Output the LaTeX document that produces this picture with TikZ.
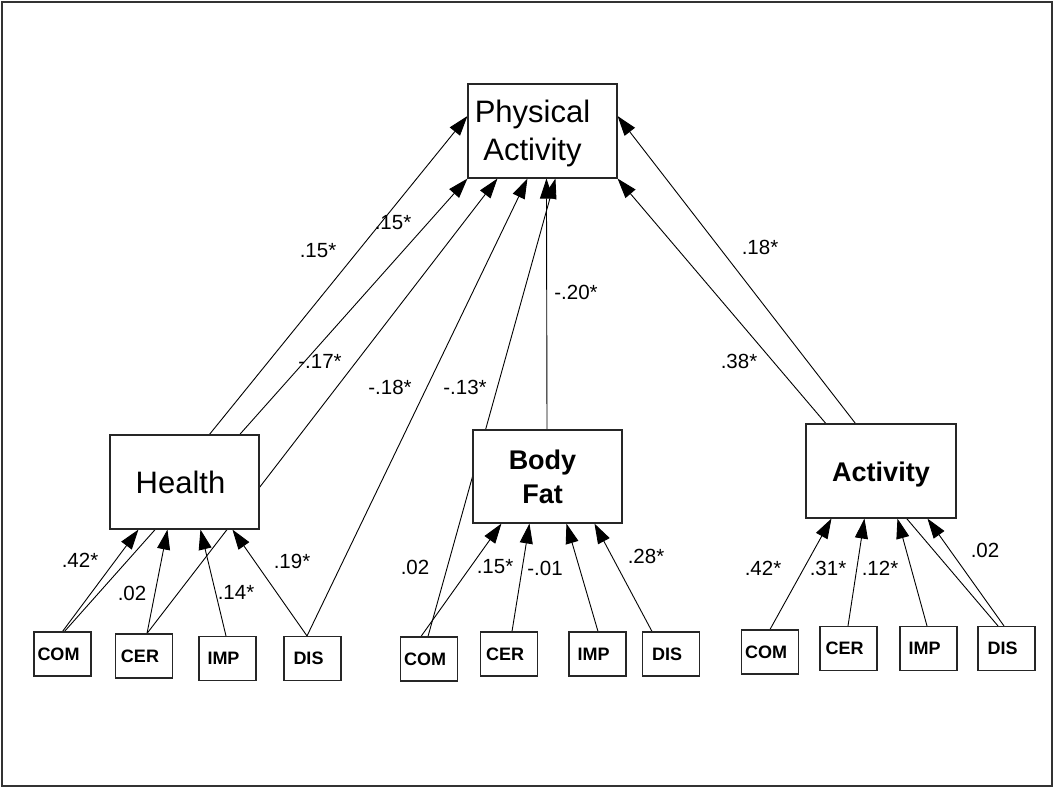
\documentclass[tikz,border=0pt]{standalone}
\usepackage{fontspec}
\setmainfont{Liberation Sans}
\usetikzlibrary{arrows.meta,backgrounds}

\tikzset{
  latent/.style={draw=black!85, line width=1.1pt, fill=white, inner sep=0pt,
    minimum width=149pt, minimum height=94pt},
  indicator/.style={draw=black!85, line width=1.1pt, fill=white, inner sep=0pt,
    minimum width=57pt, minimum height=44pt},
  bigname/.style={font=\fontsize{31}{38}\selectfont, align=center, inner sep=0pt},
  boldname/.style={font=\bfseries\fontsize{27}{34}\selectfont, align=center, inner sep=0pt},
  smallname/.style={font=\bfseries\fontsize{18}{22}\selectfont, inner sep=0pt},
  link/.style={line width=0.9pt, -{Triangle[length=20pt,width=13pt]}},
  coef/.style={font=\fontsize{20.5}{24}\selectfont, inner sep=0pt},
}

\begin{document}
\begin{tikzpicture}[x=1pt, y=-1pt]
\useasboundingbox (0,0) rectangle (1055,789);
\draw[line width=2.5pt, black!80] (2,2) rectangle (1052,786);

% latent constructs
\node[latent, label={[bigname, xshift=-10pt, yshift=-2pt]center:Physical\\Activity}] (pa) at (542.5,131) {};
\node[latent, label={[bigname, xshift=-4pt]center:Health}] (health) at (184.5,482) {};
\node[latent, minimum height=93pt, label={[boldname, xshift=-5pt]center:Body\\Fat}] (bodyfat) at (547.5,476.5) {};
\node[latent, minimum width=150pt, label={[boldname, yshift=-4pt]center:Activity}] (activity) at (881,471) {};

% indicators under Health
\node[indicator, label={[smallname, xshift=-4pt]center:COM}] (hCOM) at (62.5,654) {};
\node[indicator, label={[smallname, xshift=-4pt]center:CER}] (hCER) at (144,656) {};
\node[indicator, label={[smallname, xshift=-4pt]center:IMP}] (hIMP) at (227.5,658.5) {};
\node[indicator, label={[smallname, xshift=-4pt]center:DIS}] (hDIS) at (312.5,658.5) {};

% indicators under Body Fat
\node[indicator, label={[smallname, xshift=-4pt]center:COM}] (bCOM) at (429,659) {};
\node[indicator, label={[smallname, xshift=-4pt]center:CER}] (bCER) at (509,654) {};
\node[indicator, label={[smallname, xshift=-4pt]center:IMP}] (bIMP) at (597.5,654) {};
\node[indicator, label={[smallname, xshift=-4pt]center:DIS}] (bDIS) at (671,654) {};

% indicators under Activity
\node[indicator, label={[smallname, xshift=-4pt]center:COM}] (aCOM) at (770,652) {};
\node[indicator, label={[smallname, xshift=-4pt]center:CER}] (aCER) at (848.5,648.5) {};
\node[indicator, label={[smallname, xshift=-4pt]center:IMP}] (aIMP) at (928.5,648.5) {};
\node[indicator, label={[smallname, xshift=-4pt]center:DIS}] (aDIS) at (1006.5,648.5) {};

% paths, kept behind the boxes
\begin{pgfonlayer}{background}
  % Health block
  \draw[link] (hCOM.north) -- ([xshift=29pt]health.south west);
  \draw[link] ([xshift=2pt]hCOM.north) -- (pa.south west);
  \draw[link] ([xshift=3pt]hCER.north) -- ([xshift=58pt]health.south west);
  \draw[link] ([xshift=3pt]hCER.north) -- ([xshift=30pt]pa.south west);
  \draw[link] ([xshift=-1.5pt]hIMP.north) -- ([xshift=91pt]health.south west);
  \draw[link] ([xshift=-5.5pt]hDIS.north) -- ([xshift=123pt]health.south west);
  \draw[link] ([xshift=-5.5pt]hDIS.north) -- ([xshift=60pt]pa.south west);
  \draw[link] ([xshift=100pt]health.north west) -- ([yshift=15pt]pa.west);
  % Body Fat block
  \draw[link] ([xshift=-8pt]bCOM.north) -- ([xshift=29pt]bodyfat.south west);
  \draw[link] ([xshift=-1pt]bCOM.north) -- ([xshift=88pt]pa.south west);
  \draw[link] ([xshift=3pt]bCER.north) -- ([xshift=57pt]bodyfat.south west);
  \draw[link] ([xshift=0.5pt]bIMP.north) -- ([xshift=94pt]bodyfat.south west);
  \draw[link] ([xshift=-19pt]bDIS.north) -- ([xshift=122pt]bodyfat.south west);
  \draw[link] ([xshift=-0.5pt]bodyfat.north) -- ([xshift=79pt]pa.south west);
  % Activity block
  \draw[link] (aCOM.north) -- ([xshift=26pt]activity.south west);
  \draw[link] ([xshift=-0.5pt]aCER.north) -- ([xshift=59pt]activity.south west);
  \draw[link] ([xshift=-1.5pt]aIMP.north) -- ([xshift=92pt]activity.south west);
  \draw[link] ([xshift=-2.5pt]aDIS.north) -- ([xshift=122pt]activity.south west);
  \draw[link] ([xshift=-8.5pt]aDIS.north) -- (pa.south east);
  \draw[link] ([xshift=50pt]activity.north west) -- ([yshift=15pt]pa.east);
\end{pgfonlayer}

% path coefficients
\node[coef] (k1) at (318,251) {.15*};
\node[coef] (k2) at (393,223) {.15*};
\node[coef] (k3) at (320,361) {-.17*};
\node[coef] (k4) at (390,387) {-.18*};
\node[coef] (k5) at (465,387) {-.13*};
\node[coef] (k6) at (576,292) {-.20*};
\node[coef] (k7) at (760,247) {.18*};
\node[coef] (k8) at (739,361) {.38*};
\node[coef] (k9) at (80,560) {.42*};
\node[coef] (k10) at (132,593) {.02};
\node[coef] (k11) at (236,592) {.14*};
\node[coef] (k12) at (292,561) {.19*};
\node[coef] (k13) at (415,567) {.02};
\node[coef] (k14) at (495,567) {.15*};
\node[coef] (k15) at (545,568) {-.01};
\node[coef] (k16) at (646,556) {.28*};
\node[coef] (k17) at (763,568) {.42*};
\node[coef] (k18) at (828,568) {.31*};
\node[coef] (k19) at (880,568) {.12*};
\node[coef] (k20) at (985,550) {.02};
\end{tikzpicture}
\end{document}
